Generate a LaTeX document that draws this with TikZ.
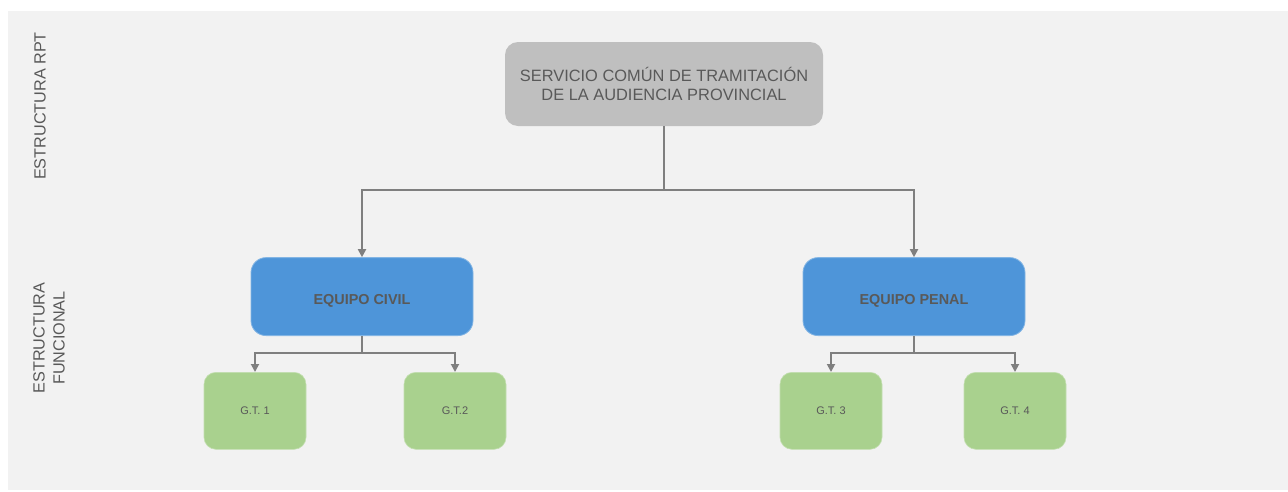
\documentclass[tikz,border=0pt]{standalone}
\usepackage{fontspec}
\setmainfont{Liberation Sans}
\usepackage{tikz}
\usetikzlibrary{arrows.meta, positioning}
\usepackage{xcolor}
\definecolor{PanelGray}{HTML}{F2F2F2}
\definecolor{BoxGray}{HTML}{BFBFBF}
\definecolor{TeamBlue}{HTML}{4E95D9}
\definecolor{GroupGreen}{HTML}{A9D18E}
\definecolor{TextGray}{HTML}{595959}
\definecolor{LineGray}{HTML}{7F7F7F}
\tikzset{%
  top_block/.style={%
    rectangle,%
    rounded corners=13pt,%
    fill=BoxGray,%
    minimum width=318pt,%
    minimum height=84pt,%
    text=TextGray,%
    font={\fontsize{16.4}{19}\selectfont},%
    align=center,%
    inner sep=0pt,%
  },
  team_block/.style={%
    rectangle,%
    rounded corners=15pt,%
    fill=TeamBlue,%
    draw=TeamBlue!70!white,%
    line width=0.8pt,%
    minimum width=222pt,%
    minimum height=78pt,%
    text=TextGray,%
    text height=15pt,%
    text depth=0pt,%
    font={\fontsize{14.4}{17}\selectfont\bfseries},%
    align=center,%
    inner sep=0pt,%
  },
  group_block/.style={%
    rectangle,%
    rounded corners=12pt,%
    fill=GroupGreen,%
    draw=GroupGreen!70!white,%
    line width=0.6pt,%
    minimum width=102pt,%
    minimum height=77pt,%
    text=TextGray,%
    font={\fontsize{11}{13}\selectfont},%
    align=center,%
    inner sep=0pt,%
  },
  side_label/.style={%
    rotate=90,%
    text=TextGray,%
    font={\fontsize{16.2}{13}\selectfont},%
    align=center,%
  },
  tree_path/.style={%
    color=LineGray,%
    line width=1.8pt,%
  },
  arrow/.style={-{Triangle[length=8pt, width=8pt]}},
}
\begin{document}
\begin{tikzpicture}[x=1pt, y=-1pt]

    \useasboundingbox (0,0) rectangle (1288,491);
    \fill [PanelGray] (8,11) rectangle (1288,490);

    \node [side_label] (rpt) at (40,106) {ESTRUCTURA RPT};
    \node [side_label, font={\fontsize{16.2}{20}\selectfont}] (funcional) at (49,338) {ESTRUCTURA\\FUNCIONAL};

    \node [top_block] (Servicio) at (664,84) {SERVICIO COMÚN DE TRAMITACIÓN\\DE LA AUDIENCIA PROVINCIAL};
    \node [team_block, below = 131pt of Servicio, xshift=-302pt] (Civil) {EQUIPO CIVIL};
    \node [team_block, below = 131pt of Servicio, xshift=250pt] (Penal) {EQUIPO PENAL};

    \node [group_block, below = 36pt of Civil, xshift=-107pt] (GT1) {G.T. 1};
    \node [group_block, below = 36pt of Civil, xshift=93pt] (GT2) {G.T.2};
    \node [group_block, below = 36pt of Penal, xshift=-83pt] (GT3) {G.T. 3};
    \node [group_block, below = 36pt of Penal, xshift=101pt] (GT4) {G.T. 4};

    \draw [arrow, tree_path]
      (Servicio.south)
      --
      ++(0,64)
      -|
      (Civil.north);
    \draw [arrow, tree_path]
      (Servicio.south)
      --
      ++(0,64)
      -|
      (Penal.north);

    \draw [arrow, tree_path]
      (Civil.south) -- ++(0,17) -| (GT1.north);
    \draw [arrow, tree_path]
      (Civil.south) -- ++(0,17) -| (GT2.north);
    \draw [arrow, tree_path]
      (Penal.south) -- ++(0,17) -| (GT3.north);
    \draw [arrow, tree_path]
      (Penal.south) -- ++(0,17) -| (GT4.north);

\end{tikzpicture}
\end{document}
